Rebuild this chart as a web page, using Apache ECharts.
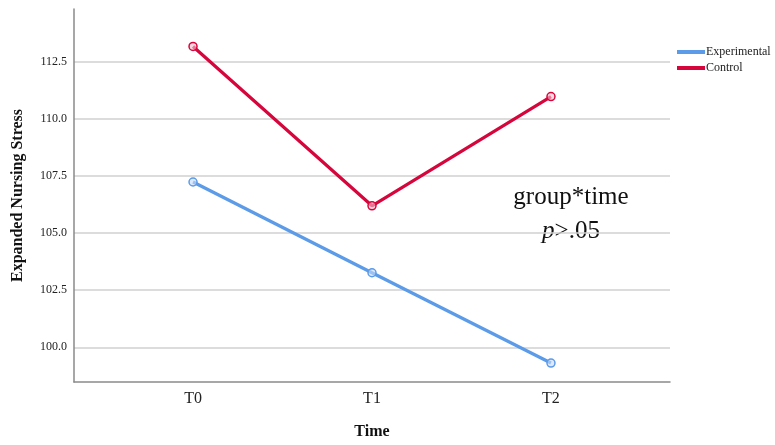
<!DOCTYPE html>
<html>
<head>
<meta charset="utf-8">
<script src="https://cdn.jsdelivr.net/npm/echarts@6/dist/echarts.min.js"></script>
<style>html,body{margin:0;padding:0;background:#fff}#c{width:775px;height:445px}</style>
</head>
<body>
<div id="c"></div>
<script>
const categories = ['T0', 'T1', 'T2'];
const experimental = [107.23, 103.26, 99.31];
const control = [113.16, 106.19, 110.97];
const yTicks = [100.0, 102.5, 105.0, 107.5, 110.0, 112.5];
const xPositions = [0, 1, 2];
const blue = '#5b9be8';
const red = '#d6063c';

const chart = echarts.init(document.getElementById('c'));
const serif = 'Liberation Serif, Times New Roman, serif';
chart.setOption({
  animation: false,
  textStyle: { fontFamily: serif },
  grid: { left: 74, right: 105, top: 9, bottom: 60 },
  legend: {
    orient: 'vertical', left: 672, top: 41,
    itemWidth: 28, itemHeight: 4, itemGap: 4,
    icon: 'rect',
    textStyle: { fontFamily: serif, fontSize: 12, color: '#222', padding: [0, 0, 0, -4] },
    data: [
      { name: 'Experimental', itemStyle: { color: blue, borderWidth: 0 } },
      { name: 'Control', itemStyle: { color: red, borderWidth: 0 } }
    ]
  },
  xAxis: {
    type: 'value', min: -0.665, max: 2.665,
    name: 'Time', nameLocation: 'middle', nameGap: 42,
    nameTextStyle: { fontFamily: serif, fontSize: 16, fontWeight: 'bold', color: '#111' },
    axisLine: { show: true, onZero: false, lineStyle: { color: '#8a8a8a', width: 1.5 } },
    axisTick: { show: false, customValues: xPositions },
    splitLine: { show: false },
    axisLabel: { customValues: xPositions, formatter: v => categories[Math.round(v)], fontSize: 16, color: '#222', margin: 9, fontFamily: serif }
  },
  yAxis: {
    type: 'value', min: 98.48, max: 114.8,
    name: 'Expanded Nursing Stress', nameLocation: 'middle', nameGap: 48,
    nameTextStyle: { fontFamily: serif, fontSize: 16, fontWeight: 'bold', color: '#111' },
    axisLine: { show: true, onZero: false, lineStyle: { color: '#8a8a8a', width: 1.5 } },
    axisTick: { show: false, customValues: yTicks },
    axisLabel: { customValues: yTicks, formatter: v => v.toFixed(1), fontSize: 12, color: '#222', margin: 7, fontFamily: serif },
    splitLine: { show: true, lineStyle: { color: '#d0d0d0', width: 1.5 } }
  },
  graphic: [{
    type: 'text', x: 571, y: 180,
    style: {
      text: '{n|group*time}\n{i|p}{n|>.05}',
      align: 'center',
      rich: {
        n: { fontFamily: serif, fontSize: 25, fill: '#111', lineHeight: 34 },
        i: { fontFamily: serif, fontSize: 25, fontStyle: 'italic', fill: '#111', lineHeight: 34 }
      }
    }
  }],
  series: [
    {
      name: 'Experimental', type: 'line',
      data: experimental.map((v, i) => [xPositions[i], v]),
      symbol: 'circle', symbolSize: 8,
      lineStyle: { color: blue, width: 3.2 },
      itemStyle: { color: 'rgba(200,220,250,0.6)', borderColor: blue, borderWidth: 1.5 }
    },
    {
      name: 'Control', type: 'line',
      data: control.map((v, i) => [xPositions[i], v]),
      symbol: 'circle', symbolSize: 8,
      lineStyle: { color: red, width: 3.2 },
      itemStyle: { color: 'rgba(245,190,205,0.6)', borderColor: red, borderWidth: 1.5 }
    }
  ]
});
</script>
</body>
</html>
